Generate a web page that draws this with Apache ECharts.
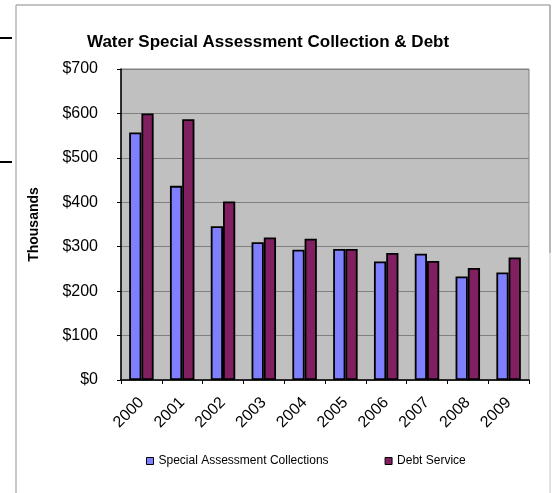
<!DOCTYPE html>
<html>
<head>
<meta charset="utf-8">
<script src="https://cdn.jsdelivr.net/npm/echarts@6/dist/echarts.min.js"></script>
<style>html,body{margin:0;padding:0;background:#fff}#c{width:554px;height:493px}</style>
</head>
<body>
<div id="c"></div>
<script>
var years = ['2000','2001','2002','2003','2004','2005','2006','2007','2008','2009'];
var collections = [557, 437, 346, 310, 293, 295, 267, 284, 233, 242];
var debtService = [600, 587, 402, 321, 318, 295, 286, 268, 252, 276];
var yTicks = [0, 100, 200, 300, 400, 500, 600, 700];

var chart = echarts.init(document.getElementById('c'));
var font = 'Arial, "Liberation Sans", sans-serif';
chart.setOption({
  animation: false,
  backgroundColor: '#ffffff',
  title: {
    text: 'Water Special Assessment Collection & Debt',
    left: 87, top: 34, padding: 0,
    textStyle: {fontFamily: font, fontSize: 17, fontWeight: 'bold', color: '#000'}
  },
  legend: {
    left: 146, top: 455, padding: 0,
    itemWidth: 7, itemHeight: 7, itemGap: 56,
    icon: 'rect',
    textStyle: {fontFamily: font, fontSize: 12, color: '#000'},
    itemStyle: {borderColor: '#000', borderWidth: 1}
  },
  grid: {left: 121, right: 25, top: 69, bottom: 113, show: true, backgroundColor: '#C0C0C0', borderColor: '#808080', borderWidth: 1},
  xAxis: {
    type: 'category', data: years,
    axisLine: {lineStyle: {color: '#000', width: 1.5}},
    axisTick: {show: true, length: 4, lineStyle: {color: '#000'}},
    axisLabel: {rotate: 45, fontFamily: font, fontSize: 16, color: '#000', margin: 20}
  },
  yAxis: {
    type: 'value', min: yTicks[0], max: yTicks[yTicks.length-1], interval: 100,
    name: 'Thousands', nameLocation: 'middle', nameGap: 80,
    nameTextStyle: {fontFamily: font, fontSize: 14, fontWeight: 'bold', color: '#000'},
    axisLine: {show: true, lineStyle: {color: '#000', width: 1.5}},
    axisTick: {show: true, length: 4, lineStyle: {color: '#000'}},
    axisLabel: {fontFamily: font, fontSize: 16, color: '#000', margin: 23, formatter: function(v){return '$' + v;}},
    splitLine: {show: true, lineStyle: {color: '#808080', width: 1}}
  },
  series: [
    {name: 'Special Assessment Collections', type: 'bar', data: collections, barGap: '0%', barCategoryGap: '40%',
     itemStyle: {color: '#8080FF', borderColor: '#000', borderWidth: 1.8}},
    {name: 'Debt Service', type: 'bar', data: debtService,
     itemStyle: {color: '#802060', borderColor: '#000', borderWidth: 1.8}}
  ],
  graphic: [
    {type: 'line', shape: {x1: 16, y1: 5, x2: 16, y2: 493}, style: {stroke: '#C8C8C8', lineWidth: 2}},
    {type: 'line', shape: {x1: 16, y1: 5, x2: 550, y2: 5}, style: {stroke: '#B0B0B0', lineWidth: 1.5}},
    {type: 'line', shape: {x1: 550, y1: 5, x2: 550, y2: 253}, style: {stroke: '#A0A0A0', lineWidth: 1.5}},
    {type: 'line', shape: {x1: 550, y1: 253, x2: 550, y2: 493}, style: {stroke: '#D8D8D8', lineWidth: 1.5}},
    {type: 'line', shape: {x1: 0, y1: 38, x2: 12, y2: 38}, style: {stroke: '#000', lineWidth: 2}},
    {type: 'line', shape: {x1: 0, y1: 162, x2: 12, y2: 162}, style: {stroke: '#000', lineWidth: 2}}
  ]
});
</script>
</body>
</html>
